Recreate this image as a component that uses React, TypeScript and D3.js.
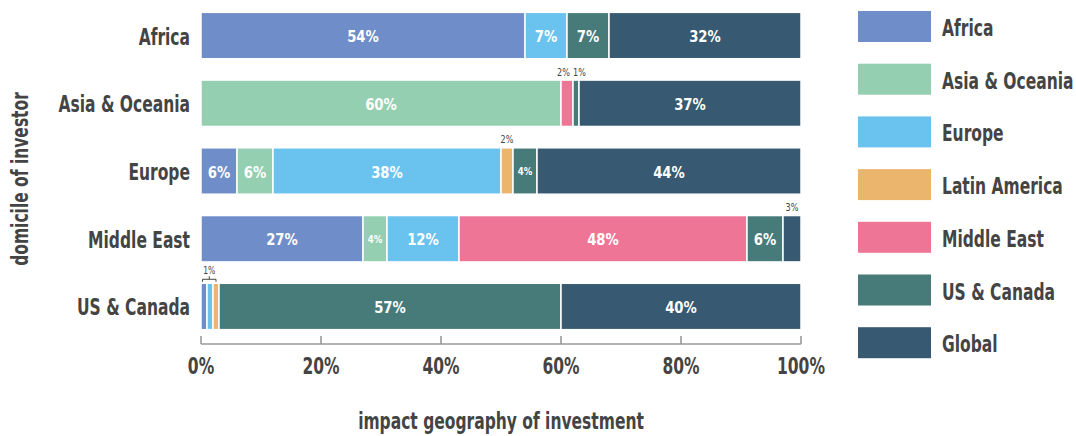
import React from "react";
import * as d3 from "d3";

const investors = ["Africa", "Asia & Oceania", "Europe", "Middle East", "US & Canada"];
const regions = ["Africa", "Asia & Oceania", "Europe", "Latin America", "Middle East", "US & Canada", "Global"];
const colors = ["#6f8dc8", "#93cfb0", "#6ac3ef", "#ecb56e", "#ef7596", "#477b7a", "#375a72"];

// share of each impact region (columns follow `regions`), per investor domicile
const africaRow = [54, 0, 7, 0, 0, 7, 32];
const asiaRow = [0, 60, 0, 0, 2, 1, 37];
const europeRow = [6, 6, 38, 2, 0, 4, 44];
const middleEastRow = [27, 4, 12, 0, 48, 6, 3];
const usCanadaRow = [1, 0, 1, 1, 0, 57, 40];
const rows = [africaRow, asiaRow, europeRow, middleEastRow, usCanadaRow];

const xTicks = [0, 20, 40, 60, 80, 100];

const W = 1076;
const H = 436;
const FONT = "'DejaVu Sans Condensed', 'DejaVu Sans', sans-serif";
const TEXT = "#444444";
const BIG = 23;
const SX = 0.75;

function Txt(props: {
  x: number;
  y: number;
  sx?: number;
  rot?: number;
  anchor?: string;
  size: number;
  fill?: string;
  bold?: boolean;
  children: React.ReactNode;
}) {
  const { x, y, sx = 1, rot = 0, anchor = "start", size, fill = TEXT, bold = true, children } = props;
  return (
    <text
      transform={`translate(${x},${y})${rot ? ` rotate(${rot})` : ""} scale(${sx},1)`}
      textAnchor={anchor}
      fontSize={size}
      fill={fill}
      fontWeight={bold ? "bold" : "normal"}
    >
      {children}
    </text>
  );
}

export default function App() {
  const x = d3.scaleLinear().domain([0, 100]).range([201, 801]);
  const y = d3.scaleBand<string>().domain(investors).range([1.5, 340.5]).paddingInner(0.315).paddingOuter(0.16);
  const bh = y.bandwidth();

  const stackData = investors.map((inv, i) => {
    const o: any = { investor: inv };
    regions.forEach((r, j) => (o[r] = rows[i][j]));
    return o;
  });
  const series = d3.stack<any>().keys(regions)(stackData);

  // labels above bars for tiny segments, nudged apart when they collide
  const above: { key: string; x: number; y: number; v: number }[] = [];
  investors.forEach((inv, di) => {
    if (inv === "US & Canada") return;
    const rowLabels: { key: string; x: number; y: number; v: number }[] = [];
    series.forEach((s, si) => {
      const d = s[di];
      const v = d[1] - d[0];
      if (v > 0 && v < 4) {
        rowLabels.push({ key: `a${si}-${di}`, x: (x(d[0]) + x(d[1])) / 2, y: y(inv)! - 4.5, v });
      }
    });
    for (let k = 1; k < rowLabels.length; k++) {
      const gap = rowLabels[k].x - rowLabels[k - 1].x;
      const minGap = 16;
      if (gap < minGap) {
        const shift = (minGap - gap) / 2;
        rowLabels[k - 1].x -= shift;
        rowLabels[k].x += shift;
      }
    }
    above.push(...rowLabels);
  });

  const axisY = 344;

  return (
    <svg width={W} height={H} style={{ position: "absolute", left: 0, top: 0, background: "#fff" }} fontFamily={FONT}>
      {/* bars */}
      {series.map((s, si) => (
        <g key={regions[si]} fill={colors[si]}>
          {s.map((d, di) => {
            const v = d[1] - d[0];
            if (v <= 0) return null;
            const x0 = x(d[0]);
            const x1 = x(d[1]);
            const yy = y(investors[di])!;
            return <rect key={di} x={x0} y={yy} width={x1 - x0} height={bh} stroke="#fff" strokeWidth={1.5} />;
          })}
        </g>
      ))}
      {/* labels inside bars */}
      {series.map((s, si) =>
        s.map((d, di) => {
          const v = d[1] - d[0];
          if (v < 4) return null;
          const cx = (x(d[0]) + x(d[1])) / 2;
          const yy = y(investors[di])!;
          if (v >= 5) {
            return (
              <Txt key={`l${si}-${di}`} x={cx} y={yy + bh / 2 + 6.5} anchor="middle" fill="#fff" size={16} sx={0.92}>
                {v}%
              </Txt>
            );
          }
          return (
            <Txt key={`l${si}-${di}`} x={cx} y={yy + bh / 2 + 4} anchor="middle" fill="#fff" size={10} sx={0.95}>
              {v}%
            </Txt>
          );
        })
      )}
      {/* labels above bars */}
      {above.map((a) => (
        <Txt key={a.key} x={a.x} y={a.y} anchor="middle" size={11} sx={0.82} bold={false}>
          {a.v}%
        </Txt>
      ))}
      {/* bracket for tiny US & Canada segments */}
      {(() => {
        const yy = y("US & Canada")!;
        const bx0 = x(0) + 1.5;
        const bx1 = x(2.5);
        const mid = (bx0 + bx1) / 2;
        return (
          <g>
            <path
              d={`M${bx0},${yy - 1.5}V${yy - 4}H${bx1}V${yy - 1.5}M${mid},${yy - 4}V${yy - 7}`}
              stroke={TEXT}
              strokeWidth={1}
              fill="none"
            />
            <Txt x={mid} y={yy - 9.5} anchor="middle" size={10} sx={0.85} bold={false}>
              1%
            </Txt>
          </g>
        );
      })()}
      {/* y category labels */}
      {investors.map((inv) => (
        <Txt key={inv} x={190} y={y(inv)! + bh / 2 + 9} anchor="end" size={BIG} sx={SX}>
          {inv}
        </Txt>
      ))}
      {/* x axis */}
      <g stroke="#9a9a9a" strokeWidth={1.6} fill="none">
        <line x1={x(0)} x2={x(100)} y1={axisY} y2={axisY} />
        {xTicks.map((t) => (
          <line key={t} x1={x(t)} x2={x(t)} y1={axisY} y2={axisY - 8} />
        ))}
      </g>
      {xTicks.map((t) => (
        <Txt key={`t${t}`} x={x(t)} y={373.5} anchor="middle" size={BIG} sx={SX}>
          {t}%
        </Txt>
      ))}
      <Txt x={x(50)} y={429} anchor="middle" size={BIG} sx={SX}>
        impact geography of investment
      </Txt>
      <Txt x={28} y={179} rot={-90} anchor="middle" size={BIG} sx={SX}>
        domicile of investor
      </Txt>
      {/* legend */}
      {regions.map((r, i) => {
        const ly = 11 + i * 52.7;
        return (
          <g key={r}>
            <rect x={858} y={ly} width={73} height={31} fill={colors[i]} />
            <Txt x={942} y={ly + 25} size={BIG} sx={SX}>
              {r}
            </Txt>
          </g>
        );
      })}
    </svg>
  );
}
